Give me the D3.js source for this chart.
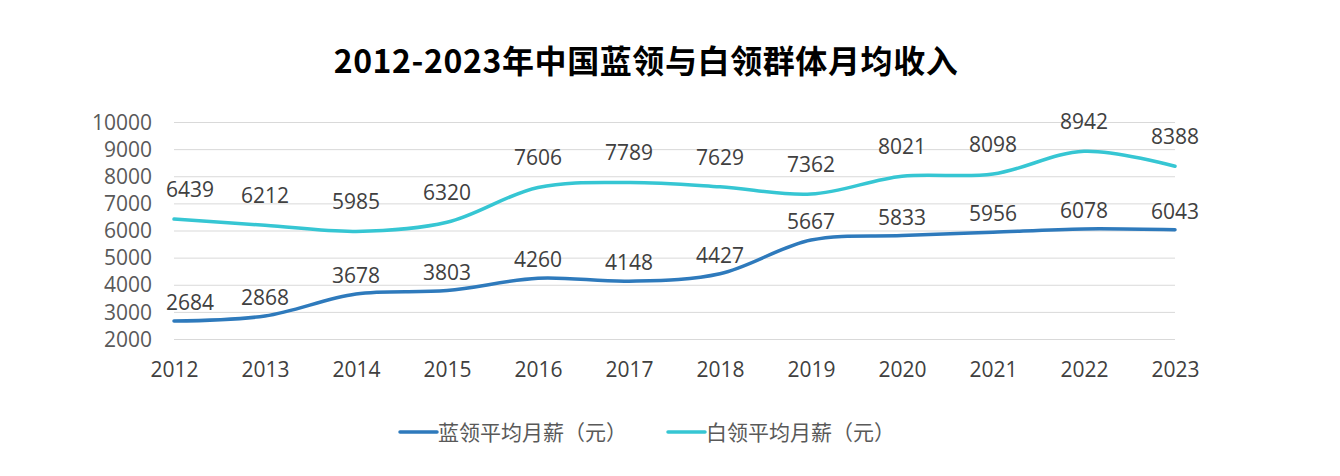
<!DOCTYPE html>
<html>
<head>
<meta charset="utf-8">
<script src="https://cdn.jsdelivr.net/npm/d3@7"></script>
<style>
  body { margin: 0; background: #fff; }
  svg text { font-family: "Noto Sans CJK SC", "Noto Sans", sans-serif; }
</style>
</head>
<body>
<div id="chart"></div>
<script>
// données
const years = ["2012", "2013", "2014", "2015", "2016", "2017", "2018", "2019", "2020", "2021", "2022", "2023"];
const blueCollar = [2684, 2868, 3678, 3803, 4260, 4148, 4427, 5667, 5833, 5956, 6078, 6043];
const whiteCollar = [6439, 6212, 5985, 6320, 7606, 7789, 7629, 7362, 8021, 8098, 8942, 8388];
const yTicks = [2000, 3000, 4000, 5000, 6000, 7000, 8000, 9000, 10000];
const seriesNames = ["蓝领平均月薪（元）", "白领平均月薪（元）"];
const colors = ["#2e7abc", "#36c6d3"];

const width = 1340, height = 476;
const numFont = "'Open Sans', 'Noto Sans', sans-serif";

const svg = d3.select("#chart").append("svg")
    .attr("width", width)
    .attr("height", height);

// titre
svg.append("text")
    .attr("x", 646)
    .attr("y", 73)
    .attr("text-anchor", "middle")
    .attr("font-size", 32)
    .attr("font-weight", "bold")
    .attr("letter-spacing", 0.6)
    .attr("fill", "#000")
    .text("2012-2023年中国蓝领与白领群体月均收入");

// échelles
const x = d3.scalePoint()
    .domain(years)
    .range([174, 1175]);

const y = d3.scaleLinear()
    .domain([2000, 10000])
    .range([339.5, 122.5]);

// grille
svg.append("g")
    .selectAll("line")
    .data(yTicks)
    .enter().append("line")
    .attr("x1", 174)
    .attr("x2", 1175)
    .attr("y1", d => y(d))
    .attr("y2", d => y(d))
    .attr("stroke", "#d9d9d9")
    .attr("stroke-width", 1);

// axe Y (étiquettes seulement)
const yAxis = svg.append("g")
    .attr("transform", "translate(174,0)")
    .call(d3.axisLeft(y).tickValues(yTicks).tickFormat(d3.format("d")).tickSize(0).tickPadding(22));
yAxis.select(".domain").remove();
yAxis.selectAll("text")
    .attr("font-size", 21)
    .attr("fill", "#595959")
    .style("font-family", numFont);

// axe X
const xAxis = svg.append("g")
    .attr("transform", "translate(0,339.5)")
    .call(d3.axisBottom(x).tickSize(0).tickPadding(23));
xAxis.select(".domain").remove();
xAxis.selectAll("text")
    .attr("font-size", 21)
    .attr("fill", "#404040")
    .style("font-family", numFont);

// courbes
const line = d3.line()
    .x((d, i) => x(years[i]))
    .y(d => y(d))
    .curve(d3.curveCatmullRom.alpha(0.5));

const labelOffset = [11, 22];

[blueCollar, whiteCollar].forEach((vals, k) => {
    svg.append("path")
        .datum(vals)
        .attr("fill", "none")
        .attr("stroke", colors[k])
        .attr("stroke-width", 3.5)
        .attr("stroke-linecap", "round")
        .attr("d", line);

    // étiquettes : on évite de déborder sur l'axe Y à gauche
    svg.selectAll(".label-" + k)
        .data(vals)
        .enter().append("text")
        .attr("class", "label-" + k)
        .attr("x", (d, i) => Math.max(x(years[i]), 190))
        .attr("y", d => y(d) - labelOffset[k])
        .attr("text-anchor", "middle")
        .attr("font-size", 21)
        .attr("fill", "#404040")
        .style("font-family", numFont)
        .text(d => d);
});

// légende
const legendX = [400, 668];
seriesNames.forEach((name, k) => {
    const g = svg.append("g").attr("transform", `translate(${legendX[k]},432)`);
    g.append("line")
        .attr("x1", 0).attr("x2", 37)
        .attr("y1", 0).attr("y2", 0)
        .attr("stroke", colors[k])
        .attr("stroke-width", 3.5)
        .attr("stroke-linecap", "round");
    g.append("text")
        .attr("x", 38)
        .attr("y", 0)
        .attr("dy", "0.36em")
        .attr("font-size", 21)
        .attr("fill", "#595959")
        .text(name);
});
</script>
</body>
</html>
